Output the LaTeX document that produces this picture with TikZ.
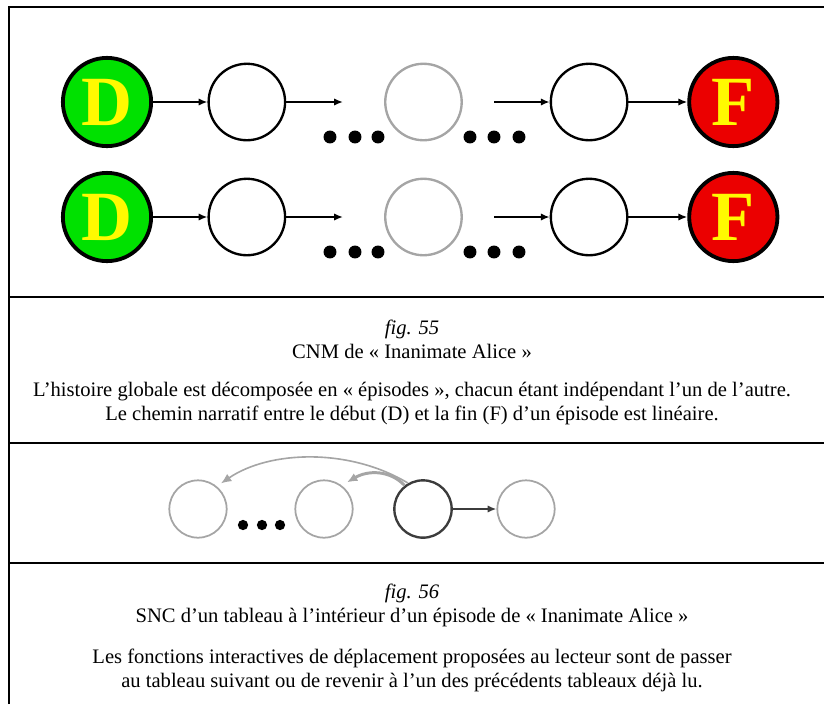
\documentclass[tikz,border=0pt]{standalone}
\usepackage{fontspec}
\setmainfont{Liberation Serif}
\usetikzlibrary{arrows.meta, positioning}
\definecolor{startgreen}{RGB}{0,225,0}
\definecolor{endred}{RGB}{235,0,0}
\definecolor{letteryellow}{RGB}{255,250,0}
\definecolor{fadegray}{RGB}{165,165,165}
\definecolor{ringdark}{RGB}{60,60,60}

\begin{document}
\begin{tikzpicture}[x=0.68pt, y=-0.68pt,
		start/.style={circle, draw=black, line width=2.6pt, fill=startgreen, minimum size=60pt,
			inner sep=0pt, text=letteryellow, font=\fontsize{48}{48}\selectfont\bfseries},
		finish/.style={start, fill=endred},
		ring/.style={circle, draw=black, line width=1.6pt, minimum size=52pt, inner sep=0pt},
		faded/.style={ring, draw=fadegray},
		frame/.style={line width=2pt},
		small/.style={circle, draw=fadegray, line width=1.2pt, minimum size=39pt, inner sep=0pt},
		current/.style={small, draw=ringdark, line width=1.6pt},
		arrow/.style={-{Latex[length=6pt, width=5pt]}, line width=1.7pt},
		back/.style={-{Latex[length=7pt, width=6pt]}, draw=fadegray},
		caption/.style={align=center, font=\fontsize{14}{16.3}\selectfont}
	]
		\useasboundingbox (0,0) rectangle (824,704);

		% frame of the table
		\draw[frame] (9,704) -- (9,7) -- (824,7);
		\foreach \y in {297,443,563}
			\draw[frame] (9,\y) -- (824,\y);

		% fig. 55 : two episodes
		\foreach \r/\y in {1/102,2/217} {
			\node[start] (d\r) at (107,\y) {D};
			\node[ring, right=37pt of d\r] (a\r) {};
			\node[faded, right=66.5pt of a\r] (m\r) {};
			\node[ring, right=59pt of m\r] (b\r) {};
			\node[finish, right=40pt of b\r] (f\r) {F};
			\coordinate (p\r) at (343,\y);
			\coordinate (q\r) at (494,\y);
			\foreach \x in {330,355,378,470,494,519}
				\fill (\x,\y+35) circle (4.4pt);
			\foreach \a/\b in {d\r/a\r,a\r/p\r,q\r/b\r,b\r/f\r}
				\draw[arrow] (\a) -- (\b);
		}

		\node[caption] (fig55) at (412,339) {\textit{fig. 55}\\CNM de « Inanimate Alice »};
		\node[caption] (note55) at (412,404) {L’histoire globale est décomposée en « épisodes », chacun étant indépendant l’un de l’autre.\\
			Le chemin narratif entre le début (D) et la fin (F) d’un épisode est linéaire.};

		% fig. 56 : tableaux of one episode
		\node[small] (t1) at (198,509) {};
		\node[small] (t2) at (324,509) {};
		\node[current] (t3) at (423,509) {};
		\node[small] (t4) at (526,509) {};
		\foreach \x in {243,262,280}
			\fill (\x,525) circle (3.5pt);
		\draw[arrow, draw=ringdark, line width=1.4pt] (t3) -- (t4);
		\draw[back, line width=2pt] (t3.128) .. controls (390,470) and (368,470) .. ([shift={(4,-4)}]t2.50);
		\draw[back, line width=1.1pt] (t3.120) .. controls (350,448) and (270,450) .. ([shift={(4,-3)}]t1.50);

		\node[caption] (fig56) at (412,605) {\textit{fig. 56}\\SNC d’un tableau à l’intérieur d’un épisode de « Inanimate Alice »};
		\node[caption] (note56) at (412,670) {Les fonctions interactives de déplacement proposées au lecteur sont de passer\\
			au tableau suivant ou de revenir à l’un des précédents tableaux déjà lu.};
	\end{tikzpicture}
\end{document}
